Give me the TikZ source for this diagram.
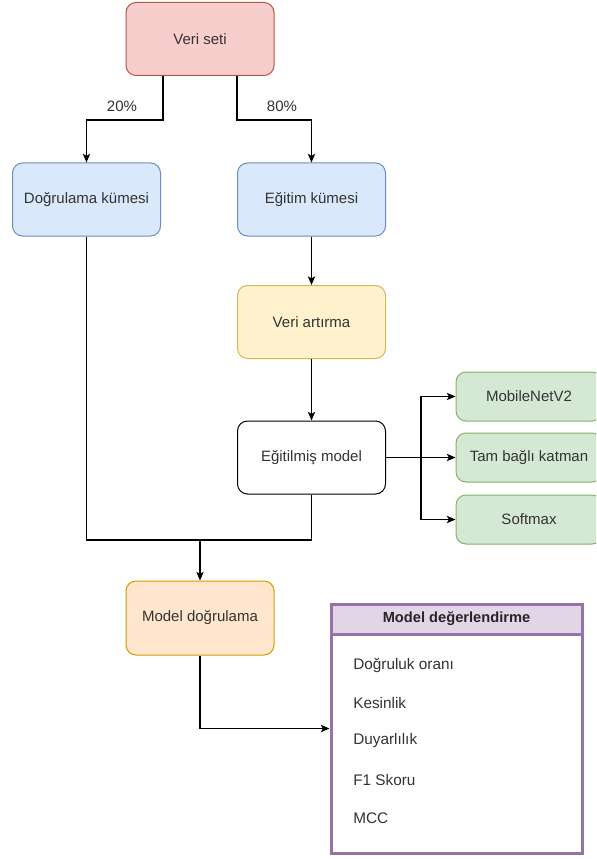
\documentclass[tikz,border=0pt]{standalone}
\usepackage{fontspec}
\setmainfont{Liberation Sans}
\usetikzlibrary{positioning}
\usetikzlibrary{arrows,arrows.meta,shapes}
\usetikzlibrary{calc}
\definecolor{redF}{HTML}{F8CECC}
\definecolor{redD}{HTML}{B85450}
\definecolor{blueF}{HTML}{DAE8FC}
\definecolor{blueD}{HTML}{6C8EBF}
\definecolor{yellowF}{HTML}{FFF2CC}
\definecolor{yellowD}{HTML}{D6B656}
\definecolor{greenF}{HTML}{D5E8D4}
\definecolor{greenD}{HTML}{82B366}
\definecolor{orangeF}{HTML}{FFE6CC}
\definecolor{orangeD}{HTML}{D79B00}
\definecolor{purpleF}{HTML}{E1D5E7}
\definecolor{purpleD}{HTML}{9673A6}
\tikzstyle{box}=[rectangle,rounded corners=7.5pt,draw,line width=0.75pt,minimum width=111pt,minimum height=54.75pt,inner sep=0pt,font=\fontsize{11.25}{13}\selectfont,text=black!80]
\tikzstyle{smallbox}=[box,minimum width=109.5pt,minimum height=36.75pt]
\tikzstyle{edge} = [draw,-{Stealth[length=6.5pt,width=5.5pt,inset=1.5pt]},line width=0.8pt,black]
\tikzstyle{line} = [draw,line width=0.8pt,black]
\tikzstyle{weight} = [font=\fontsize{11.25}{13}\selectfont,text=black!80]
\tikzstyle{item} = [anchor=west,inner sep=0pt,font=\fontsize{11.5}{13}\selectfont,text=black!80]

\begin{document}
\begin{tikzpicture}[x=0.75pt,y=-0.75pt]
    \useasboundingbox (0,0) rectangle (596,859);
    \clip (0,0) rectangle (596,859);
    % First we draw the boxes
    \node[box,draw=redD,fill=redF] (veri) at (200,39) {Veri seti};

    \foreach \pos/\name/\label in {{(86.5,199.5)/dog/Doğrulama kümesi}, {(311.5,199.5)/egk/Eğitim kümesi}}
        \node[box,draw=blueD,fill=blueF] (\name) at \pos {\label};

    \node[box,draw=yellowD,fill=yellowF] (art) at (311.5,322) {Veri artırma};
    \node[box,draw=black,fill=white] (egm) at (311.5,457.5) {Eğitilmiş model};
    \node[box,draw=orangeD,fill=orangeF,minimum height=55.5pt] (mdog) at (200,618) {Model doğrulama};

    \foreach \pos/\name/\label in {{(529,396.5)/mob/MobileNetV2}, {(529,457.5)/tam/Tam bağlı katman}, {(529,519.5)/soft/Softmax}}
        \node[smallbox,draw=greenD,fill=greenF] (\name) at \pos {\label};

    % Evaluation box with its header and metrics
    \node[draw=purpleD,fill=white,line width=2.25pt,minimum width=188.25pt,minimum height=186.75pt,inner sep=0pt] (eval) at (456.5,728.5) {};
    \node[draw=purpleD,fill=purpleF,line width=2.25pt,minimum width=188.25pt,minimum height=22.5pt,inner sep=0pt,font=\fontsize{11}{13}\selectfont\bfseries,text=black!85] (head) at (456.5,619) {Model değerlendirme};
    \foreach \y/\name/\label in {665/m1/Doğruluk oranı, 703/m2/Kesinlik, 741/m3/Duyarlılık, 780/m4/F1 Skoru, 818/m5/MCC}
        \node[item] (\name) at (353,\y) {\label};

    % Split labels
    \node[weight] (p20) at (122,106) {20\%};
    \node[weight] (p80) at (282,106) {80\%};

    % Helper points for the orthogonal connectors
    \coordinate (merge) at (200,540);
    \coordinate (split) at (421,457.5);

    % Connect boxes with edges
    \draw[edge] ([xshift=-27.75pt]veri.south) -- ++(0,44) -| (dog);
    \draw[edge] ([xshift=27.75pt]veri.south) -- ++(0,44) -| (egk);
    \foreach \source/ \dest in {egk/art, art/egm}
        \path[edge] (\source) -- (\dest);
    \draw[line] (dog) |- (merge);
    \draw[line] (egm) |- (merge);
    \draw[edge] (merge) -- (mdog);
    \draw[line] (egm) -- (split);
    \foreach \dest in {mob, tam, soft}
        \path[edge] (split) |- (\dest);
    \draw[edge] (mdog) |- (eval);
\end{tikzpicture}
\end{document}
